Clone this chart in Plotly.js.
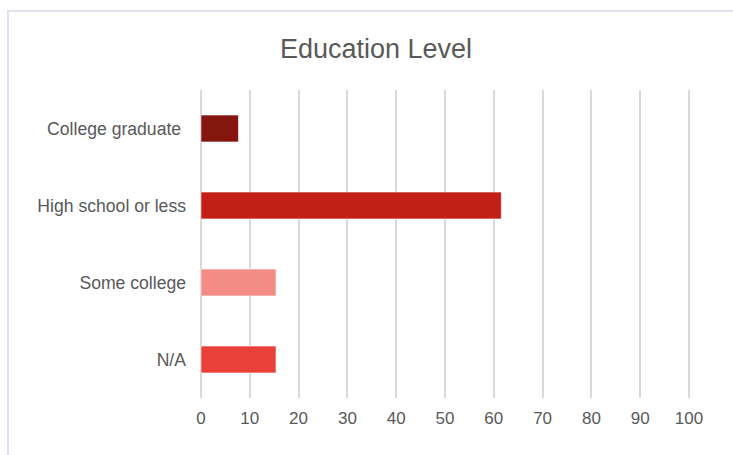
<!DOCTYPE html>
<html>
<head>
<meta charset="utf-8">
<script src="https://cdn.plot.ly/plotly-3.0.1.min.js"></script>
<style>
  html, body { margin: 0; padding: 0; background: #ffffff; }
  #wrap { position: relative; width: 733px; height: 455px; overflow: hidden; }
  #frame { position: absolute; left: 7px; top: 10px; width: 740px; height: 460px;
           border-left: 2px solid #e6e0f0; border-top: 2px solid #e6e0f0; box-sizing: border-box; }
  #chart { position: absolute; left: 0; top: 0; width: 733px; height: 455px; }
</style>
</head>
<body>
<div id="wrap">
  <div id="frame"></div>
  <div id="chart"></div>
</div>
<script>
const categories = ["College graduate\u00a0", "High school or less", "Some college", "N/A"];
const values = [7.69, 61.54, 15.38, 15.38];
const barColors = ["#85150f", "#c22016", "#f28c85", "#e9403a"];
const xTicks = [0, 10, 20, 30, 40, 50, 60, 70, 80, 90, 100];
const chartTitle = "Education Level";

const trace = {
  type: "bar",
  orientation: "h",
  y: categories,
  x: values,
  marker: { color: barColors, line: { color: "rgba(255,255,255,0.6)", width: 1 } },
  hoverinfo: "x+y"
};

const layout = {
  width: 733,
  height: 455,
  margin: { l: 199, r: 42, t: 90, b: 57, pad: 0 },
  paper_bgcolor: "rgba(0,0,0,0)",
  plot_bgcolor: "rgba(0,0,0,0)",
  font: { family: "Liberation Sans, Arial, sans-serif", color: "#595959", size: 17 },
  title: {
    text: chartTitle,
    font: { size: 27, color: "#595959", family: "Liberation Sans, Arial, sans-serif" },
    x: 0.513, xanchor: "center",
    y: 0.893, yanchor: "middle"
  },
  bargap: 0.65,
  showlegend: false,
  xaxis: {
    range: [-0.4, 100.4],
    tickvals: xTicks,
    ticktext: xTicks.map(String),
    showgrid: true,
    gridcolor: "#d9d9d9",
    gridwidth: 2,
    zeroline: false,
    showline: false,
    ticks: "",
    ticklabelstandoff: 8,
    tickfont: { size: 17, color: "#595959" },
    fixedrange: true
  },
  yaxis: {
    type: "category",
    autorange: "reversed",
    showgrid: false,
    zeroline: false,
    showline: false,
    ticks: "",
    ticklabelstandoff: 12,
    tickfont: { size: 17.6, color: "#595959" },
    fixedrange: true
  }
};

Plotly.newPlot("chart", [trace], layout, { displayModeBar: false, staticPlot: true });
</script>
</body>
</html>
